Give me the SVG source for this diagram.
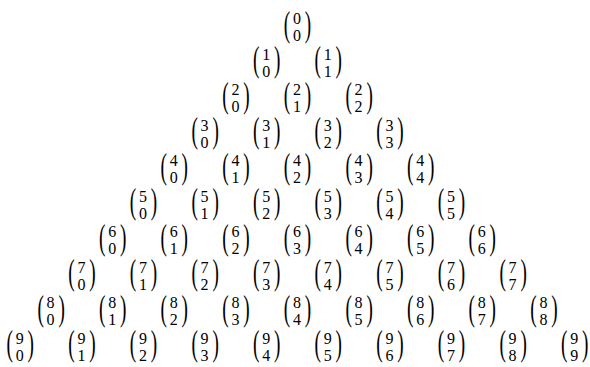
<svg xmlns="http://www.w3.org/2000/svg" width="590" height="367" viewBox="0 0 590 367">
<style>
text{font-family:'Liberation Serif','Times New Roman',serif;fill:#000;text-anchor:middle}
.d{font-size:16px}
.l,.r{font-size:35px}
</style>
<defs>
<g id="pl"><text class="l" transform="translate(-10,8.5) scale(0.55,1)">(</text></g>
<g id="pr"><text class="r" transform="translate(11,8.5) scale(0.55,1)">)</text></g>
</defs>
<g id="nodes">
<g id="n0-0" transform="translate(297,27)"><use href="#pl"/><text class="d" y="-3">0</text><text class="d" y="14">0</text><use href="#pr"/></g>

<g id="n1-0" transform="translate(266.2,62.5)"><use href="#pl"/><text class="d" y="-3">1</text><text class="d" y="14">0</text><use href="#pr"/></g>
<g id="n1-1" transform="translate(327.8,62.5)"><use href="#pl"/><text class="d" y="-3">1</text><text class="d" y="14">1</text><use href="#pr"/></g>

<g id="n2-0" transform="translate(235.4,98)"><use href="#pl"/><text class="d" y="-3">2</text><text class="d" y="14">0</text><use href="#pr"/></g>
<g id="n2-1" transform="translate(297,98)"><use href="#pl"/><text class="d" y="-3">2</text><text class="d" y="14">1</text><use href="#pr"/></g>
<g id="n2-2" transform="translate(358.6,98)"><use href="#pl"/><text class="d" y="-3">2</text><text class="d" y="14">2</text><use href="#pr"/></g>

<g id="n3-0" transform="translate(204.6,133.5)"><use href="#pl"/><text class="d" y="-3">3</text><text class="d" y="14">0</text><use href="#pr"/></g>
<g id="n3-1" transform="translate(266.2,133.5)"><use href="#pl"/><text class="d" y="-3">3</text><text class="d" y="14">1</text><use href="#pr"/></g>
<g id="n3-2" transform="translate(327.8,133.5)"><use href="#pl"/><text class="d" y="-3">3</text><text class="d" y="14">2</text><use href="#pr"/></g>
<g id="n3-3" transform="translate(389.4,133.5)"><use href="#pl"/><text class="d" y="-3">3</text><text class="d" y="14">3</text><use href="#pr"/></g>

<g id="n4-0" transform="translate(173.8,169)"><use href="#pl"/><text class="d" y="-3">4</text><text class="d" y="14">0</text><use href="#pr"/></g>
<g id="n4-1" transform="translate(235.4,169)"><use href="#pl"/><text class="d" y="-3">4</text><text class="d" y="14">1</text><use href="#pr"/></g>
<g id="n4-2" transform="translate(297,169)"><use href="#pl"/><text class="d" y="-3">4</text><text class="d" y="14">2</text><use href="#pr"/></g>
<g id="n4-3" transform="translate(358.6,169)"><use href="#pl"/><text class="d" y="-3">4</text><text class="d" y="14">3</text><use href="#pr"/></g>
<g id="n4-4" transform="translate(420.2,169)"><use href="#pl"/><text class="d" y="-3">4</text><text class="d" y="14">4</text><use href="#pr"/></g>

<g id="n5-0" transform="translate(143,204.5)"><use href="#pl"/><text class="d" y="-3">5</text><text class="d" y="14">0</text><use href="#pr"/></g>
<g id="n5-1" transform="translate(204.6,204.5)"><use href="#pl"/><text class="d" y="-3">5</text><text class="d" y="14">1</text><use href="#pr"/></g>
<g id="n5-2" transform="translate(266.2,204.5)"><use href="#pl"/><text class="d" y="-3">5</text><text class="d" y="14">2</text><use href="#pr"/></g>
<g id="n5-3" transform="translate(327.8,204.5)"><use href="#pl"/><text class="d" y="-3">5</text><text class="d" y="14">3</text><use href="#pr"/></g>
<g id="n5-4" transform="translate(389.4,204.5)"><use href="#pl"/><text class="d" y="-3">5</text><text class="d" y="14">4</text><use href="#pr"/></g>
<g id="n5-5" transform="translate(451,204.5)"><use href="#pl"/><text class="d" y="-3">5</text><text class="d" y="14">5</text><use href="#pr"/></g>

<g id="n6-0" transform="translate(112.2,240)"><use href="#pl"/><text class="d" y="-3">6</text><text class="d" y="14">0</text><use href="#pr"/></g>
<g id="n6-1" transform="translate(173.8,240)"><use href="#pl"/><text class="d" y="-3">6</text><text class="d" y="14">1</text><use href="#pr"/></g>
<g id="n6-2" transform="translate(235.4,240)"><use href="#pl"/><text class="d" y="-3">6</text><text class="d" y="14">2</text><use href="#pr"/></g>
<g id="n6-3" transform="translate(297,240)"><use href="#pl"/><text class="d" y="-3">6</text><text class="d" y="14">3</text><use href="#pr"/></g>
<g id="n6-4" transform="translate(358.6,240)"><use href="#pl"/><text class="d" y="-3">6</text><text class="d" y="14">4</text><use href="#pr"/></g>
<g id="n6-5" transform="translate(420.2,240)"><use href="#pl"/><text class="d" y="-3">6</text><text class="d" y="14">5</text><use href="#pr"/></g>
<g id="n6-6" transform="translate(481.8,240)"><use href="#pl"/><text class="d" y="-3">6</text><text class="d" y="14">6</text><use href="#pr"/></g>

<g id="n7-0" transform="translate(81.4,275.5)"><use href="#pl"/><text class="d" y="-3">7</text><text class="d" y="14">0</text><use href="#pr"/></g>
<g id="n7-1" transform="translate(143,275.5)"><use href="#pl"/><text class="d" y="-3">7</text><text class="d" y="14">1</text><use href="#pr"/></g>
<g id="n7-2" transform="translate(204.6,275.5)"><use href="#pl"/><text class="d" y="-3">7</text><text class="d" y="14">2</text><use href="#pr"/></g>
<g id="n7-3" transform="translate(266.2,275.5)"><use href="#pl"/><text class="d" y="-3">7</text><text class="d" y="14">3</text><use href="#pr"/></g>
<g id="n7-4" transform="translate(327.8,275.5)"><use href="#pl"/><text class="d" y="-3">7</text><text class="d" y="14">4</text><use href="#pr"/></g>
<g id="n7-5" transform="translate(389.4,275.5)"><use href="#pl"/><text class="d" y="-3">7</text><text class="d" y="14">5</text><use href="#pr"/></g>
<g id="n7-6" transform="translate(451,275.5)"><use href="#pl"/><text class="d" y="-3">7</text><text class="d" y="14">6</text><use href="#pr"/></g>
<g id="n7-7" transform="translate(512.6,275.5)"><use href="#pl"/><text class="d" y="-3">7</text><text class="d" y="14">7</text><use href="#pr"/></g>

<g id="n8-0" transform="translate(50.6,311)"><use href="#pl"/><text class="d" y="-3">8</text><text class="d" y="14">0</text><use href="#pr"/></g>
<g id="n8-1" transform="translate(112.2,311)"><use href="#pl"/><text class="d" y="-3">8</text><text class="d" y="14">1</text><use href="#pr"/></g>
<g id="n8-2" transform="translate(173.8,311)"><use href="#pl"/><text class="d" y="-3">8</text><text class="d" y="14">2</text><use href="#pr"/></g>
<g id="n8-3" transform="translate(235.4,311)"><use href="#pl"/><text class="d" y="-3">8</text><text class="d" y="14">3</text><use href="#pr"/></g>
<g id="n8-4" transform="translate(297,311)"><use href="#pl"/><text class="d" y="-3">8</text><text class="d" y="14">4</text><use href="#pr"/></g>
<g id="n8-5" transform="translate(358.6,311)"><use href="#pl"/><text class="d" y="-3">8</text><text class="d" y="14">5</text><use href="#pr"/></g>
<g id="n8-6" transform="translate(420.2,311)"><use href="#pl"/><text class="d" y="-3">8</text><text class="d" y="14">6</text><use href="#pr"/></g>
<g id="n8-7" transform="translate(481.8,311)"><use href="#pl"/><text class="d" y="-3">8</text><text class="d" y="14">7</text><use href="#pr"/></g>
<g id="n8-8" transform="translate(543.4,311)"><use href="#pl"/><text class="d" y="-3">8</text><text class="d" y="14">8</text><use href="#pr"/></g>

<g id="n9-0" transform="translate(19.8,346.5)"><use href="#pl"/><text class="d" y="-3">9</text><text class="d" y="14">0</text><use href="#pr"/></g>
<g id="n9-1" transform="translate(81.4,346.5)"><use href="#pl"/><text class="d" y="-3">9</text><text class="d" y="14">1</text><use href="#pr"/></g>
<g id="n9-2" transform="translate(143,346.5)"><use href="#pl"/><text class="d" y="-3">9</text><text class="d" y="14">2</text><use href="#pr"/></g>
<g id="n9-3" transform="translate(204.6,346.5)"><use href="#pl"/><text class="d" y="-3">9</text><text class="d" y="14">3</text><use href="#pr"/></g>
<g id="n9-4" transform="translate(266.2,346.5)"><use href="#pl"/><text class="d" y="-3">9</text><text class="d" y="14">4</text><use href="#pr"/></g>
<g id="n9-5" transform="translate(327.8,346.5)"><use href="#pl"/><text class="d" y="-3">9</text><text class="d" y="14">5</text><use href="#pr"/></g>
<g id="n9-6" transform="translate(389.4,346.5)"><use href="#pl"/><text class="d" y="-3">9</text><text class="d" y="14">6</text><use href="#pr"/></g>
<g id="n9-7" transform="translate(451,346.5)"><use href="#pl"/><text class="d" y="-3">9</text><text class="d" y="14">7</text><use href="#pr"/></g>
<g id="n9-8" transform="translate(512.6,346.5)"><use href="#pl"/><text class="d" y="-3">9</text><text class="d" y="14">8</text><use href="#pr"/></g>
<g id="n9-9" transform="translate(574.2,346.5)"><use href="#pl"/><text class="d" y="-3">9</text><text class="d" y="14">9</text><use href="#pr"/></g>
</g>
<g id="connectors"/>
</svg>
